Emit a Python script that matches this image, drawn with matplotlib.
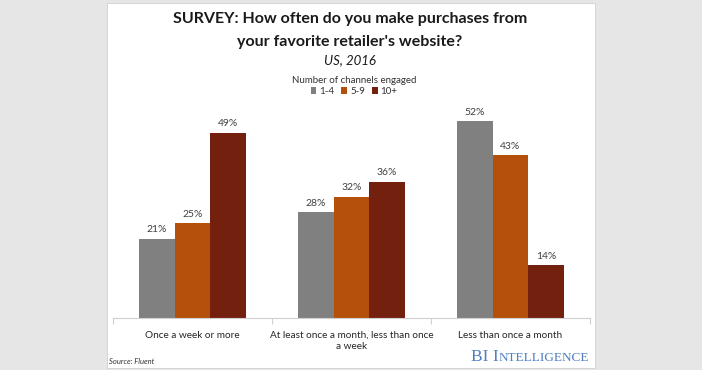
import numpy as np
import matplotlib
matplotlib.use("Agg")
from matplotlib import pyplot as plt
from matplotlib.patches import Rectangle

categories = ["Once a week or more",
              "At least once a month, less than once\na week",
              "Less than once a month"]
series_names = ["1-4", "5-9", "10+"]
values = [
    [21, 28, 52],   # 1-4
    [25, 32, 43],   # 5-9
    [49, 36, 14],   # 10+
]
colors = ["#808080", "#b5500c", "#73200f"]

plt.rcParams["font.family"] = ["Lato", "DejaVu Sans"]

W, H = 702, 370
fig = plt.figure(figsize=(W / 100, H / 100), dpi=100)
fig.patch.set_facecolor("#e6e6e6")

def fx(px):
    return px / W

def fy(py):
    return 1 - py / H

# white card behind everything
fig.patches.append(Rectangle((fx(107), fy(368)), fx(595) - fx(107), fy(3) - fy(368),
                             transform=fig.transFigure, facecolor="white",
                             edgecolor="#d0d0d0", lw=0.6, zorder=-5))

ax = fig.add_axes([fx(113), fy(318), fx(590) - fx(113), fy(110) - fy(318)])
ax.set_facecolor("none")

x = np.arange(len(categories))
width = 0.224
for i, (name, vals, c) in enumerate(zip(series_names, values, colors)):
    pos = x + (i - 1) * width
    ax.bar(pos, vals, width=width, color=c, label=name, zorder=2)
    for p, v in zip(pos, vals):
        ax.text(p, v + 1.2, f"{v}%", ha="center", va="bottom",
                fontsize=7.5, color="#404040")

ax.set_xlim(-0.5, 2.5)
ax.set_ylim(0, 55)
ax.set_yticks([])
for s in ["top", "left", "right"]:
    ax.spines[s].set_visible(False)
ax.spines["bottom"].set_color("#d0d0d0")
ax.spines["bottom"].set_linewidth(0.8)
ax.set_xticks(x)
ax.set_xticklabels(categories, fontsize=7.2, color="#262626", linespacing=1.35)
ax.tick_params(axis="x", which="major", length=0, pad=9)
ax.set_xticks([-0.5, 0.5, 1.5, 2.5], minor=True)
ax.tick_params(axis="x", which="minor", length=4, color="#d0d0d0", width=0.8)

# titles
fig.text(fx(350), fy(19), "SURVEY: How often do you make purchases from",
         ha="center", va="center", fontsize=11.5, fontweight="bold", color="#1a1a1a")
fig.text(fx(350), fy(42), "your favorite retailer's website?",
         ha="center", va="center", fontsize=11.5, fontweight="bold", color="#1a1a1a")
fig.text(fx(350), fy(60), "US, 2016", ha="center", va="center",
         fontsize=9.5, style="italic", color="#1a1a1a")

# legend
leg = fig.legend(loc="center", bbox_to_anchor=(fx(354), fy(86)), ncol=3,
                 frameon=False, fontsize=7, title="Number of channels engaged",
                 title_fontsize=7, handlelength=0.6, handleheight=0.6,
                 handletextpad=0.3, columnspacing=0.7, borderpad=0, labelspacing=0.2)
leg.get_title().set_color("#333333")
for t in leg.get_texts():
    t.set_color("#333333")

fig.text(fx(109), fy(362), "Source: Fluent", ha="left", va="center",
         fontsize=5.5, style="italic", color="#333333")

# BI Intelligence logo in small caps
fig.canvas.draw()
r = fig.canvas.get_renderer()
blue = "#4f7fc0"
serif = ["Liberation Serif", "DejaVu Serif"]
t2 = fig.text(fx(589), fy(361), "NTELLIGENCE", ha="right", va="baseline",
              fontsize=9.5, family=serif, color=blue)
bb = t2.get_window_extent(r)
fig.text(bb.x0 / W, fy(361), "BI I", ha="right", va="baseline",
         fontsize=12.5, family=serif, color=blue)

fig.savefig("out.png", dpi=100, facecolor=fig.get_facecolor())
